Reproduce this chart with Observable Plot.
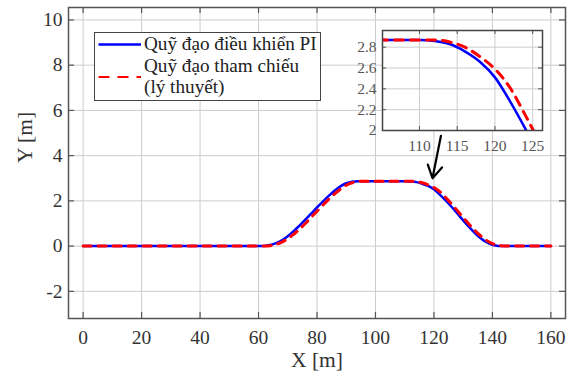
<!DOCTYPE html>
<html>
<head>
<meta charset="utf-8">
<script src="https://cdn.jsdelivr.net/npm/d3@7"></script>
<script src="https://cdn.jsdelivr.net/npm/@observablehq/plot@0.6"></script>
<style>
  body { margin: 0; background: #fff; }
  #wrap { position: relative; width: 579px; height: 383px; font-family: "Liberation Serif", "Times New Roman", serif; }
  #wrap svg { position: absolute; overflow: visible; }
  #legend { position: absolute; left: 94px; top: 32px; width: 225px; height: 67px; border: 1.5px solid #444; background: #fff; font-size: 19.2px; line-height: 22px; color: #222; }
  #legend .row { position: absolute; left: 0; white-space: nowrap; }
</style>
</head>
<body>
<div id="wrap"></div>
<script>
// ---- data ----
const xs = [0, 60, 62, 64, 66, 68, 70, 72, 74, 76, 78, 80, 82, 84, 86, 88, 90, 92, 94, 96,
            110, 112, 114, 116, 118, 120, 122, 124, 126, 128, 130, 132, 134, 136, 138, 140, 142, 144, 160];
const blueY = [0, 0, 0.01, 0.05, 0.13, 0.26, 0.44, 0.66, 0.91, 1.17, 1.44, 1.71, 1.97, 2.22, 2.45, 2.64, 2.78, 2.85, 2.87, 2.87,
               2.87, 2.86, 2.83, 2.76, 2.66, 2.51, 2.28, 2.02, 1.74, 1.44, 1.14, 0.85, 0.58, 0.35, 0.17, 0.06, 0.01, 0, 0];
const redY = [0, 0, 0, 0.02, 0.08, 0.18, 0.33, 0.52, 0.75, 1.00, 1.27, 1.54, 1.81, 2.07, 2.31, 2.52, 2.69, 2.80, 2.86, 2.87,
              2.87, 2.87, 2.85, 2.80, 2.71, 2.59, 2.41, 2.15, 1.87, 1.57, 1.27, 0.97, 0.69, 0.45, 0.25, 0.11, 0.03, 0.01, 0];
const seriesNames = ["Quỹ đạo điều khiển PI", "Quỹ đạo tham chiếu", "(lý thuyết)"];
const xTicks = [0, 20, 40, 60, 80, 100, 120, 140, 160];
const yTicks = [-2, 0, 2, 4, 6, 8, 10];
const insetXTicks = [110, 115, 120, 125];
const insetYTicks = [2, 2.2, 2.4, 2.6, 2.8];
const arrowX1 = [122.4], arrowY1 = [4.88], arrowX2 = [119.5], arrowY2 = [3.0];
const xLabel = "X [m]", yLabel = "Y [m]";

const blue = xs.map((x, i) => ({x, y: blueY[i]}));
const red = xs.map((x, i) => ({x, y: redY[i]}));

const wrap = document.getElementById("wrap");
const fmt = d => String(d); // plain hyphen-minus like the original
const SERIF = "Liberation Serif, Times New Roman, serif";

function forceSerif(svg) {
  svg.setAttribute("font-family", SERIF);
  svg.querySelectorAll("g, text").forEach(el => el.setAttribute("font-family", SERIF));
}

// ---- main chart ----
const mainH = 311;
const main = Plot.plot({
  width: 579, height: 383,
  marginLeft: 68, marginRight: 14, marginTop: 7, marginBottom: 65,
  style: {fontFamily: "'Liberation Serif', serif", fontSize: "19px", color: "#333", background: "transparent"},
  x: {domain: [-5, 165]},
  y: {domain: [-3.2, 10.55]},
  marks: [
    Plot.gridX(xTicks, {stroke: "#ccc", strokeOpacity: 1, strokeWidth: 1}),
    Plot.gridY(yTicks, {stroke: "#ccc", strokeOpacity: 1, strokeWidth: 1}),
    Plot.tickX(xTicks, {x: d => d, insetTop: mainH - 6, stroke: "#555", strokeWidth: 1.2}),
    Plot.tickX(xTicks, {x: d => d, insetBottom: mainH - 6, stroke: "#555", strokeWidth: 1.2}),
    Plot.tickY(yTicks, {y: d => d, insetRight: 497 - 6, stroke: "#555", strokeWidth: 1.2}),
    Plot.tickY(yTicks, {y: d => d, insetLeft: 497 - 6, stroke: "#555", strokeWidth: 1.2}),
    Plot.axisX(xTicks, {tickSize: 0, tickPadding: 12, label: null, fill: "#333", tickFormat: fmt, fontSize: 19.5}),
    Plot.axisY(yTicks, {tickSize: 0, tickPadding: 6, label: null, fill: "#333", tickFormat: fmt, fontSize: 19.5}),
    Plot.frame({stroke: "#555", strokeWidth: 1.5}),
    Plot.line(blue, {x: "x", y: "y", stroke: "#0000ff", strokeWidth: 2.5, curve: "monotone-x"}),
    Plot.line(red, {x: "x", y: "y", stroke: "#ff0000", strokeWidth: 3, strokeDasharray: "8,7", curve: "monotone-x"}),
    Plot.arrow([0], {x1: () => arrowX1[0], y1: () => arrowY1[0], x2: () => arrowX2[0], y2: () => arrowY2[0], stroke: "#000", strokeWidth: 2.2, headLength: 10}),
    Plot.text([xLabel], {frameAnchor: "bottom", dy: 48, fontSize: 21.5, fill: "#333"}),
    Plot.text([yLabel], {frameAnchor: "left", dx: -43, rotate: -90, fontSize: 21.5, fill: "#333"})
  ]
});
main.style.left = "0px"; main.style.top = "0px";
forceSerif(main);
wrap.appendChild(main);

// ---- inset ----
const inset = Plot.plot({
  width: 218, height: 130,
  marginLeft: 40, marginRight: 18, marginTop: 10, marginBottom: 20,
  style: {fontFamily: "'Liberation Serif', serif", fontSize: "15px", color: "#555", background: "transparent"},
  x: {domain: [105.1, 126.3]},
  y: {domain: [2, 2.96]},
  marks: [
    Plot.frame({fill: "#fff"}),
    Plot.gridX(insetXTicks, {stroke: "#ccc", strokeOpacity: 1}),
    Plot.gridY(insetYTicks, {stroke: "#ccc", strokeOpacity: 1}),
    Plot.tickX(insetXTicks, {x: d => d, insetTop: 100 - 4, stroke: "#555"}),
    Plot.tickX(insetXTicks, {x: d => d, insetBottom: 100 - 4, stroke: "#555"}),
    Plot.tickY(insetYTicks, {y: d => d, insetRight: 160 - 4, stroke: "#555"}),
    Plot.tickY(insetYTicks, {y: d => d, insetLeft: 160 - 4, stroke: "#555"}),
    Plot.axisX(insetXTicks, {tickSize: 0, tickPadding: 9, label: null, fill: "#555", tickFormat: fmt, fontSize: 15.5}),
    Plot.axisY(insetYTicks, {tickSize: 0, tickPadding: 6, label: null, fill: "#555", tickFormat: fmt, fontSize: 15.5}),
    Plot.line(blue, {x: "x", y: "y", stroke: "#0000ff", strokeWidth: 2.5, curve: "monotone-x", clip: true}),
    Plot.line(red, {x: "x", y: "y", stroke: "#ff0000", strokeWidth: 3, strokeDasharray: "9,7", curve: "monotone-x", clip: true}),
    Plot.frame({stroke: "#444", strokeWidth: 1.5})
  ]
});
inset.style.left = "342px"; inset.style.top = "20px";
forceSerif(inset);
wrap.appendChild(inset);

// ---- legend ----
const legend = document.createElement("div");
legend.id = "legend";
legend.innerHTML = `
  <svg width="48" height="67" style="position:absolute;left:0;top:0;overflow:visible">
    <line x1="3.5" x2="46" y1="11.5" y2="11.5" stroke="#0000ff" stroke-width="2.5"/>
    <line x1="3.5" x2="46" y1="44" y2="44" stroke="#ff0000" stroke-width="2.2" stroke-dasharray="11,8"/>
  </svg>
  <div class="row" style="left:49px;top:0px">${seriesNames[0]}</div>
  <div class="row" style="left:49px;top:21.5px">${seriesNames[1]}</div>
  <div class="row" style="left:49px;top:43px">${seriesNames[2]}</div>`;
wrap.appendChild(legend);
</script>
</body>
</html>
